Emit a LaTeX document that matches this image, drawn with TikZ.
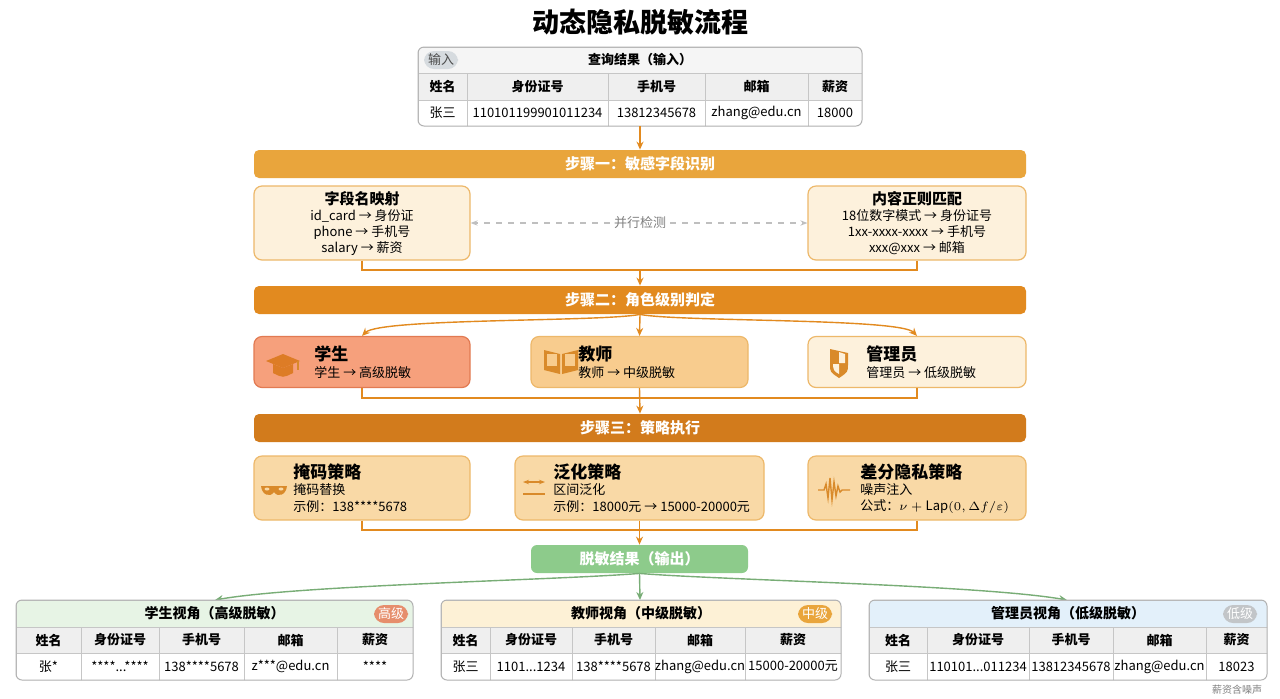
\documentclass[tikz,border=0pt]{standalone}
\usepackage{fontspec}
\setmainfont{Noto Sans CJK SC}
\usetikzlibrary{arrows.meta}
\definecolor{ora1}{HTML}{E9A53C}
\definecolor{ora2}{HTML}{E28A1F}
\definecolor{ora3}{HTML}{D27B1C}
\definecolor{cream}{HTML}{FDF1DC}
\definecolor{creamb}{HTML}{EDB86A}
\definecolor{salmon}{HTML}{F6A07C}
\definecolor{salmonb}{HTML}{E27A52}
\definecolor{tan}{HTML}{F8CC8E}
\definecolor{strat}{HTML}{F9D9A6}
\definecolor{grn}{HTML}{8DCB8B}
\definecolor{grnl}{HTML}{E7F4E5}
\definecolor{yell}{HTML}{FDF1D6}
\definecolor{blul}{HTML}{E3F0FA}
\definecolor{hdr}{HTML}{EFEFEF}
\definecolor{icon}{HTML}{D98A2A}
\newcommand\mycell[7]{\node[cell,fill=#6,minimum width={(#3-#2)*0.5pt},minimum height={(#5-#4)*0.5pt}] (#1) at ({(#2+#3)/2},{(#4+#5)/2}) {#7};}
\begin{document}
\begin{tikzpicture}[x=0.5pt,y=-0.5pt,
 cell/.style={draw=gray!45,line width=0.3pt,inner sep=0pt,font=\fontsize{6.5}{7}\selectfont},
 bar/.style={rounded corners=2.5pt,inner sep=0pt,minimum height=14pt,minimum width=386pt,text=white,font=\fontsize{7.5}{8}\selectfont\bfseries},
 box/.style={rounded corners=4pt,draw=creamb,line width=0.6pt,inner sep=0pt},
 btxt/.style={align=left,anchor=north west,font=\fontsize{6.5}{8}\selectfont,inner sep=0pt},
 bttl/.style={font=\fontsize{8.5}{9}\selectfont\bfseries,inner sep=0pt},
 oline/.style={draw=ora2,line width=0.7pt},
 oarr/.style={oline,-{Stealth[length=4pt,width=3.5pt]}},
 garr/.style={draw=grn!85!black,line width=0.7pt,-{Stealth[length=4pt,width=3.5pt]}},
 badge/.style={rounded corners=5pt,inner sep=1.5pt,minimum width=17pt,minimum height=9pt,text=white,font=\fontsize{6.5}{7}\selectfont}]
\useasboundingbox (0,0) rectangle (1280,698);
\fill[white] (0,0) rectangle (1280,698);
\node[font=\fontsize{13.5}{14}\selectfont\bfseries] (title) at (640,22) {动态隐私脱敏流程};
% input table
\begin{scope}
\clip[rounded corners=3pt] (418,47) rectangle (862,126);
\mycell{ih}{418}{862}{47}{73}{hdr!60}{\bfseries 查询结果（输入）}
\mycell{i1}{418}{467}{73}{100}{hdr}{\bfseries 姓名}
\mycell{i2}{467}{608}{73}{100}{hdr}{\bfseries 身份证号}
\mycell{i3}{608}{705}{73}{100}{hdr}{\bfseries 手机号}
\mycell{i4}{705}{808}{73}{100}{hdr}{\bfseries 邮箱}
\mycell{i5}{808}{862}{73}{100}{hdr}{\bfseries 薪资}
\mycell{j1}{418}{467}{100}{126}{white}{张三}
\mycell{j2}{467}{608}{100}{126}{white}{110101199901011234}
\mycell{j3}{608}{705}{100}{126}{white}{13812345678}
\mycell{j4}{705}{808}{100}{126}{white}{zhang@edu.cn}
\mycell{j5}{808}{862}{100}{126}{white}{18000}
\end{scope}
\draw[gray!60,line width=0.5pt,rounded corners=3pt] (418,47) rectangle (862,126);
\node[badge,fill=blul!60!gray!60,text=black!70] (inb) at (441,60) {输入};
% step 1
\node[bar,fill=ora1] (s1) at (640,164) {步骤一：敏感字段识别};
\coordinate (tb) at (640,126);
\draw[oarr] (tb) -- (s1.north);
\node[box,fill=cream,minimum width=108pt,minimum height=37pt] (fa) at (362,223) {};
\node[box,fill=cream,minimum width=109pt,minimum height=37pt] (fb) at (917,223) {};
\node[align=center,font=\fontsize{6.5}{8}\selectfont] (fat) at (362,223) {{\bfseries\fontsize{7.5}{8}\selectfont 字段名映射}\\id\_card → 身份证\\phone → 手机号\\salary → 薪资};
\node[align=center,font=\fontsize{6.5}{8}\selectfont] (fbt) at (917,223) {{\bfseries\fontsize{7.5}{8}\selectfont 内容正则匹配}\\18位数字模式 → 身份证号\\1xx-xxxx-xxxx → 手机号\\xxx@xxx → 邮箱};
\node[text=gray,font=\fontsize{6.5}{7}\selectfont,fill=white,inner sep=2pt] (par) at (640,223) {并行检测};
\draw[gray!50,dashed,line width=0.6pt,-{Stealth[length=3.5pt]}] (par.west) -- (fa.east);
\draw[gray!50,dashed,line width=0.6pt,-{Stealth[length=3.5pt]}] (par.east) -- (fb.west);
\coordinate (k1) at (640,270);
\draw[oline] (fa.south) |- (k1);
\draw[oline] (fb.south) |- (k1);
% step 2
\node[bar,fill=ora2] (s2) at (640,300) {步骤二：角色级别判定};
\draw[oarr] (k1) -- (s2.north);
\node[box,fill=salmon,draw=salmonb,minimum width=108pt,minimum height=25.5pt] (r1) at (362,362) {};
\node[box,fill=tan,minimum width=108.5pt,minimum height=25.5pt] (r2) at (639.5,362) {};
\node[box,fill=cream,minimum width=109pt,minimum height=25.5pt] (r3) at (917,362) {};
\node[bttl,anchor=west] (r1a) at (314,354) {学生};
\node[btxt,anchor=west] (r1b) at (314,373) {学生 → 高级脱敏};
\node[bttl,anchor=west] (r2a) at (578,354) {教师};
\node[btxt,anchor=west] (r2b) at (578,373) {教师 → 中级脱敏};
\node[bttl,anchor=west] (r3a) at (866,354) {管理员};
\node[btxt,anchor=west] (r3b) at (866,373) {管理员 → 低级脱敏};
% icons
\fill[icon!90!red] (266,361) -- (283,354) -- (300,361) -- (283,368) -- cycle;
\fill[icon!90!red] (273,364) -- (273,373) .. controls (283,378) .. (293,373) -- (293,364) -- (283,368) -- cycle;
\draw[icon,line width=0.6pt] (298,361) -- (298,370);
\fill[icon] (544,350) -- (560,354) -- (560,374) -- (544,370) -- cycle;
\fill[icon] (578,350) -- (562,354) -- (562,374) -- (578,370) -- cycle;
\fill[tan] (547,354) rectangle (557,366); \fill[tan] (565,354) rectangle (575,366);
\fill[icon] (830,349) -- (848,353) -- (848,364) .. controls (848,372) .. (839,378) .. controls (830,372) .. (830,364) -- cycle;
\fill[cream] (839,352) -- (845,354) -- (845,363) -- (839,363) -- cycle;
\fill[cream] (833,364) -- (839,364) -- (839,374) .. controls (834,371) .. (833,366) -- cycle;
\draw[oarr] (s2.south) .. controls (600,322) and (380,318) .. (r1.north);
\draw[oarr] (s2.south) -- (r2.north);
\draw[oarr] (s2.south) .. controls (680,322) and (900,318) .. (r3.north);
\coordinate (k2) at (640,398);
\draw[oline] (r1.south) |- (k2);
\draw[oline] (r3.south) |- (k2);
% step 3
\node[bar,fill=ora3] (s3) at (640,428) {步骤三：策略执行};
\draw[oarr] (r2.south) -- (s3.north);
\node[box,fill=strat,minimum width=108pt,minimum height=32pt] (t1) at (362,488) {};
\node[box,fill=strat,minimum width=124.5pt,minimum height=32pt] (t2) at (639.5,488) {};
\node[box,fill=strat,minimum width=109pt,minimum height=32pt] (t3) at (917,488) {};
\node[bttl,anchor=west] (t1a) at (293,472) {掩码策略};
\node[btxt,anchor=west] (t1b) at (293,490) {掩码替换};
\node[btxt,anchor=west] (t1c) at (293,507) {示例：138****5678};
\node[bttl,anchor=west] (t2a) at (553,472) {泛化策略};
\node[btxt,anchor=west] (t2b) at (553,490) {区间泛化};
\node[btxt,anchor=west] (t2c) at (553,507) {示例：18000元 → 15000-20000元};
\node[bttl,anchor=west] (t3a) at (860,472) {差分隐私策略};
\node[btxt,anchor=west] (t3b) at (860,490) {噪声注入};
\node[btxt,anchor=west] (t3c) at (860,507) {公式：$\nu+\mathrm{Lap}(0,\Delta f/\varepsilon)$};
\fill[icon] (261,486) .. controls (262,495) and (270,498) .. (274,492) .. controls (278,498) and (286,495) .. (287,486) -- cycle;
\fill[strat] (267,489) ellipse (2.5 and 1.5); \fill[strat] (281,489) ellipse (2.5 and 1.5);
\draw[icon,line width=0.7pt,{Stealth[length=3pt]}-{Stealth[length=3pt]}] (523,482) -- (545,482);
\draw[icon,line width=0.7pt] (523,494) -- (545,494);
\draw[icon,line width=0.7pt] (818,490) -- (824,490) -- (826,484) -- (828,498) -- (830,478) -- (832,500) -- (834,482) -- (836,496) -- (838,486) -- (840,492) -- (842,490) -- (850,490);
\coordinate (k3) at (640,530);
\draw[oline] (t1.south) |- (k3);
\draw[oline] (t3.south) |- (k3);
% output
\node[rounded corners=3pt,fill=grn,minimum width=108.5pt,minimum height=14pt,inner sep=0pt,text=white,font=\fontsize{7.5}{8}\selectfont\bfseries] (out) at (639.5,559) {脱敏结果（输出）};
\draw[oarr] (t2.south) -- (out.north);
% output tables
\coordinate (L) at (215,600);
\coordinate (M) at (640,600);
\coordinate (R) at (1067,600);
\draw[garr] (out.south) .. controls (560,580) and (300,585) .. (L);
\draw[garr] (out.south) -- (M);
\draw[garr] (out.south) .. controls (720,580) and (980,585) .. (R);
% left
\begin{scope}
\clip[rounded corners=3pt] (16,600) rectangle (413,680);
\mycell{ah}{16}{413}{600}{627}{grnl}{\bfseries\fontsize{7}{8}\selectfont 学生视角（高级脱敏）}
\mycell{a1}{16}{81}{627}{653}{hdr}{\bfseries 姓名}
\mycell{a2}{81}{159}{627}{653}{hdr}{\bfseries 身份证号}
\mycell{a3}{159}{244}{627}{653}{hdr}{\bfseries 手机号}
\mycell{a4}{244}{337}{627}{653}{hdr}{\bfseries 邮箱}
\mycell{a5}{337}{413}{627}{653}{hdr}{\bfseries 薪资}
\mycell{b1}{16}{81}{653}{680}{white}{张*}
\mycell{b2}{81}{159}{653}{680}{white}{****...****}
\mycell{b3}{159}{244}{653}{680}{white}{138****5678}
\mycell{b4}{244}{337}{653}{680}{white}{z***@edu.cn}
\mycell{b5}{337}{413}{653}{680}{white}{****}
\end{scope}
\draw[gray!60,line width=0.5pt,rounded corners=3pt] (16,600) rectangle (413,680);
\node[badge,fill=salmonb!85] (ba) at (391,614) {高级};
% middle
\begin{scope}
\clip[rounded corners=3pt] (441,600) rectangle (841,680);
\mycell{ch}{441}{841}{600}{627}{yell}{\bfseries\fontsize{7}{8}\selectfont 教师视角（中级脱敏）}
\mycell{c1}{441}{490}{627}{653}{hdr}{\bfseries 姓名}
\mycell{c2}{490}{572}{627}{653}{hdr}{\bfseries 身份证号}
\mycell{c3}{572}{655}{627}{653}{hdr}{\bfseries 手机号}
\mycell{c4}{655}{745}{627}{653}{hdr}{\bfseries 邮箱}
\mycell{c5}{745}{841}{627}{653}{hdr}{\bfseries 薪资}
\mycell{d1}{441}{490}{653}{680}{white}{张三}
\mycell{d2}{490}{572}{653}{680}{white}{1101...1234}
\mycell{d3}{572}{655}{653}{680}{white}{138****5678}
\mycell{d4}{655}{745}{653}{680}{white}{zhang@edu.cn}
\mycell{d5}{745}{841}{653}{680}{white}{15000-20000元}
\end{scope}
\draw[gray!60,line width=0.5pt,rounded corners=3pt] (441,600) rectangle (841,680);
\node[badge,fill=ora1] (bc) at (815,614) {中级};
% right
\begin{scope}
\clip[rounded corners=3pt] (869,600) rectangle (1267,680);
\mycell{eh}{869}{1267}{600}{627}{blul}{\bfseries\fontsize{7}{8}\selectfont 管理员视角（低级脱敏）}
\mycell{e1}{869}{927}{627}{653}{hdr}{\bfseries 姓名}
\mycell{e2}{927}{1029}{627}{653}{hdr}{\bfseries 身份证号}
\mycell{e3}{1029}{1113}{627}{653}{hdr}{\bfseries 手机号}
\mycell{e4}{1113}{1206}{627}{653}{hdr}{\bfseries 邮箱}
\mycell{e5}{1206}{1267}{627}{653}{hdr}{\bfseries 薪资}
\mycell{f1}{869}{927}{653}{680}{white}{张三}
\mycell{f2}{927}{1029}{653}{680}{white}{110101...011234}
\mycell{f3}{1029}{1113}{653}{680}{white}{13812345678}
\mycell{f4}{1113}{1206}{653}{680}{white}{zhang@edu.cn}
\mycell{f5}{1206}{1267}{653}{680}{white}{18023}
\end{scope}
\draw[gray!60,line width=0.5pt,rounded corners=3pt] (869,600) rectangle (1267,680);
\node[badge,fill=blul!40!gray!70] (be) at (1240,614) {低级};
\node[text=gray,font=\fontsize{5}{6}\selectfont] (note) at (1237,690) {薪资含噪声};
\end{tikzpicture}
\end{document}
